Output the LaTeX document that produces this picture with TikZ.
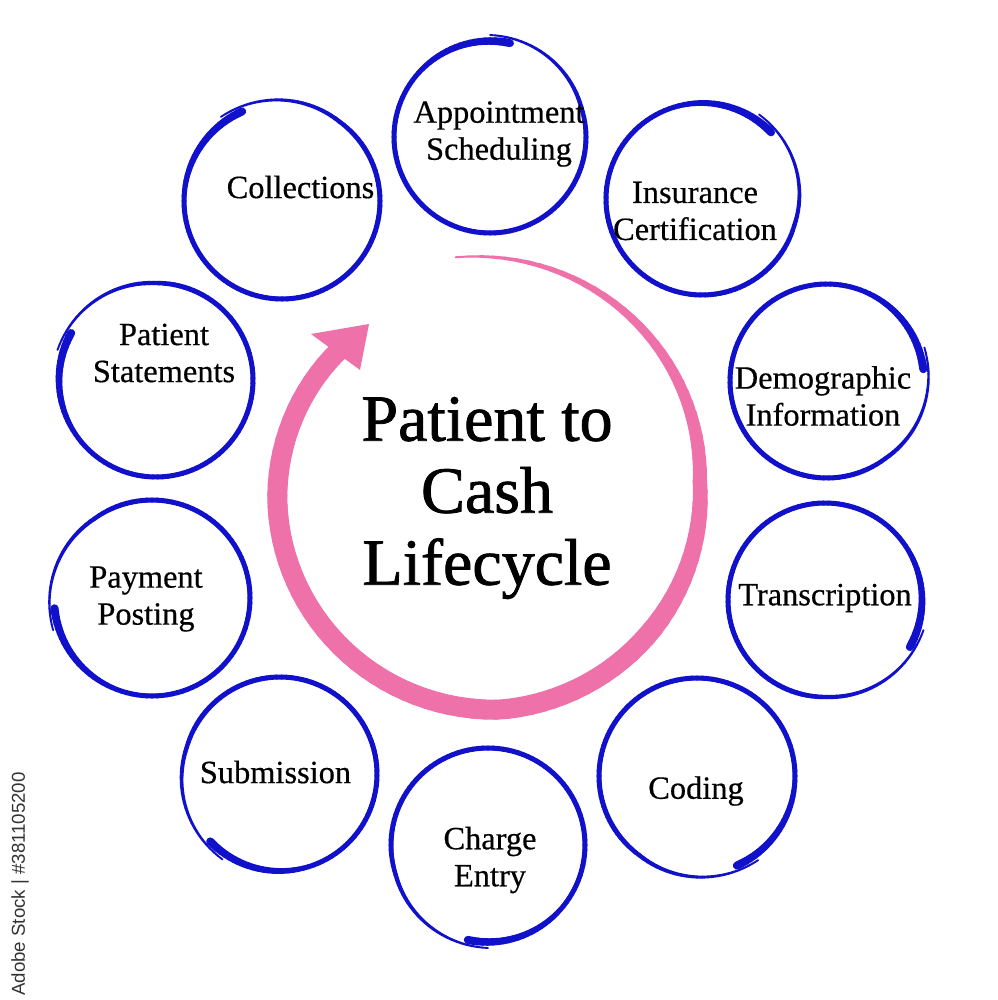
\documentclass[tikz,border=0pt]{standalone}
\usepackage{fontspec}
\setmainfont{Liberation Serif}
\newfontfamily\lblfont{Liberation Serif}[FakeBold=0.5]
\newfontfamily\titlefont{Liberation Serif}[FakeBold=1.2]
\newfontfamily\wmfont{Liberation Sans}
\definecolor{brushblue}{RGB}{17,17,204}
\definecolor{arrowpink}{RGB}{238,113,170}
\tikzset{
  lbl/.style={font=\lblfont\fontsize{24.3}{27.75}\selectfont, align=center, inner sep=0pt, text=black},
  bigtitle/.style={font=\titlefont\fontsize{49.5}{54}\selectfont, align=center, inner sep=0pt, text=black},
  brushseg/.style={brushblue, line cap=round},
  pinkseg/.style={arrowpink, line cap=round}
}
\newcommand\brushring[4]{%
  \foreach \brK in {0,...,123}{%
    \pgfmathsetmacro\brS{3*\brK}%
    \pgfmathsetmacro\brA{#4+\brS}%
    \pgfmathsetmacro\brB{\brA+3}%
    \pgfmathsetmacro\brRa{#3+max(0,\brS-300)/12}%
    \pgfmathsetmacro\brRb{#3+max(0,\brS+3-300)/12}%
    \pgfmathsetmacro\brW{0.75*(\brS<60 ? 8-3*\brS/60 : (\brS>280 ? 5-3.2*(\brS-280)/92 : 5))}%
    \draw[brushseg, line width=\brW pt]
      ({#1+\brRa*cos(\brA)},{#2-\brRa*sin(\brA)}) -- ({#1+\brRb*cos(\brB)},{#2-\brRb*sin(\brB)});
  }}
\newcommand\pinkrad[2]{%
  \pgfmathsetmacro#1{(#2)<96 ? 233-21*(#2)/96 : ((#2)<185 ? 212+10*((#2)-96)/89 : ((#2)<275 ? 222-11*((#2)-185)/90 : 211-8*((#2)-275)/45))}}
\begin{document}
\begin{tikzpicture}[x=0.75pt,y=-0.75pt]
\fill[white] (0,0) rectangle (997,1000);
\useasboundingbox (0,0) rectangle (997,1000);

% pink cycle arrow
\foreach \pk in {0,...,106}{%
  \pgfmathsetmacro\pS{3*\pk}%
  \pgfmathsetmacro\pT{\pS+3}%
  \pinkrad\pRa\pS
  \pinkrad\pRb\pT
  \pgfmathsetmacro\pW{0.75*min(20,2+0.13*\pS)}%
  \draw[pinkseg, line width=\pW pt]
    ({488+\pRa*cos(98-\pS)},{488-\pRa*sin(98-\pS)}) -- ({488+\pRb*cos(98-\pT)},{488-\pRb*sin(98-\pT)});
}
\coordinate (tip) at (369,324);
\coordinate (wingl) at (311,334);
\coordinate (wingr) at (360,370);
\fill[arrowpink] (tip) -- (wingl) -- (wingr) -- cycle;

% blue brush rings
\brushring{490}{137}{96}{78}
\brushring{702}{199}{96}{44}
\brushring{827}{381}{97}{7}
\brushring{825}{600}{97}{-29}
\brushring{697}{776}{98}{-66}
\brushring{488}{845}{97}{258}
\brushring{280}{774}{97}{224}
\brushring{152}{598}{98}{186}
\brushring{156}{380}{97}{151}
\brushring{282}{201}{98}{114}

% labels
\node[lbl] (appt) at (499,134) {Appointment\\Scheduling};
\node[lbl] (ins) at (695,211) {Insurance\\Certification};
\node[lbl] (demo) at (823,396) {Demographic\\Information};
\node[lbl] (trans) at (825,598) {Transcription};
\node[lbl] (coding) at (696,791) {Coding};
\node[lbl] (charge) at (490,860) {Charge\\Entry};
\node[lbl] (sub) at (275.5,772) {Submission};
\node[lbl] (pay) at (146,599) {Payment\\Posting};
\node[lbl] (stmt) at (164,353) {Patient\\Statements};
\node[lbl] (coll) at (300.5,187) {Collections};

\node[bigtitle] (title) at (487,498) {Patient to\\Cash\\Lifecycle};

\node[rotate=90, inner sep=0pt, text=black!80, font=\wmfont\fontsize{14}{14}\selectfont] (wm) at (20,884) {Adobe Stock | \#381105200};
\end{tikzpicture}
\end{document}
